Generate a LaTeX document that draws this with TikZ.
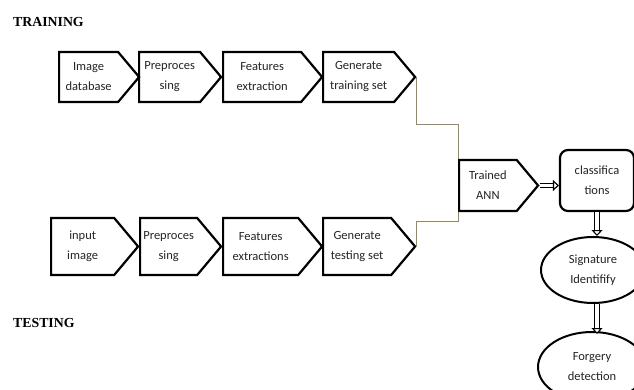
\documentclass[tikz,border=0pt]{standalone}
\usepackage{fontspec}
\setmainfont{Carlito}
\newfontfamily\headfont{Liberation Serif}
\usepackage{tikz}
\usetikzlibrary{arrows.meta,shapes.symbols,shapes.geometric}

\definecolor{linkolive}{RGB}{150,138,88}
\definecolor{inktext}{RGB}{35,35,35}

\tikzset{
    stage/.style={shape=signal, signal to=east, signal pointer angle=100, draw, line width=2.2pt,
        inner sep=0pt, anchor=west, align=center, font=\fontsize{12.5}{20}\selectfont, text=inktext},
    link/.style={draw=linkolive, line width=1pt},
    dbl/.style={draw, double=white, double distance=3.5pt, line width=1.1pt,
        -{Triangle[fill=white, length=6pt, width=11pt, line width=1.1pt]}},
    heading/.style={anchor=base west, font=\headfont\bfseries\fontsize{13.8}{16}\selectfont, inner sep=0pt}
}

\begin{document}
\begin{tikzpicture}[x=1pt,y=-1pt]
        \useasboundingbox (0,0) rectangle (634,390);
        % Draw headings
        \node [heading] (train) at (13,27) {TRAINING};
        \node [heading] (test) at (13,327) {TESTING};
        % Draw training row
        \foreach \name/\x/\w/\txt in {img/58/80/{Image\\database}, pretr/138/82/{Preproces\\sing},
                feattr/222/99/{Features\\extraction}, gentr/322/92/{Generate\\training set}} {
            \node [stage, minimum width=\w, minimum height=50] (\name) at (\x,77) {\txt};
        }
        % Draw testing row
        \foreach \name/\x/\w/\txt in {inp/50/87/{input\\image}, prete/139/81/{Preproces\\sing},
                featte/222/99/{Features\\extractions}, gente/322/92/{Generate\\testing set}} {
            \node [stage, minimum width=\w, minimum height=57] (\name) at (\x,246.5) {\txt};
        }
        % Draw ANN and outputs
        \node [stage, minimum width=79, minimum height=51] (ann) at (458,185.5) {Trained\\ANN};
        \node [draw, line width=2.2pt, rounded corners=8pt, minimum width=74, minimum height=61,
            align=center, font=\fontsize{12.5}{20}\selectfont, text=inktext] (cls) at (597,180.5) {classifica\\tions};
        \node [draw, ellipse, line width=2pt, minimum width=104, minimum height=66, inner sep=0pt,
            align=center, font=\fontsize{12.5}{20}\selectfont, text=inktext] (sig) at (593,270) {Signature\\Identifify};
        \node [draw, ellipse, line width=2pt, minimum width=108, minimum height=70, inner sep=0pt,
            align=center, font=\fontsize{12.5}{20}\selectfont, text=inktext] (forg) at (592,367) {Forgery\\detection};
        % Draw links
        \draw [link] (gentr.east) -- ++(0,48) -| (ann.west |- ann.north);
        \draw [link] (gente.east) -- ++(0,-25) -| (ann.west |- ann.south);
        % Draw double arrows
        \draw [dbl] (ann.east) -- (cls.west |- ann.east);
        \draw [dbl] (cls.south) -- (cls.south |- sig.north);
        \draw [dbl] (sig.south -| cls.south) -- ++(0,30);
    \end{tikzpicture}
\end{document}
